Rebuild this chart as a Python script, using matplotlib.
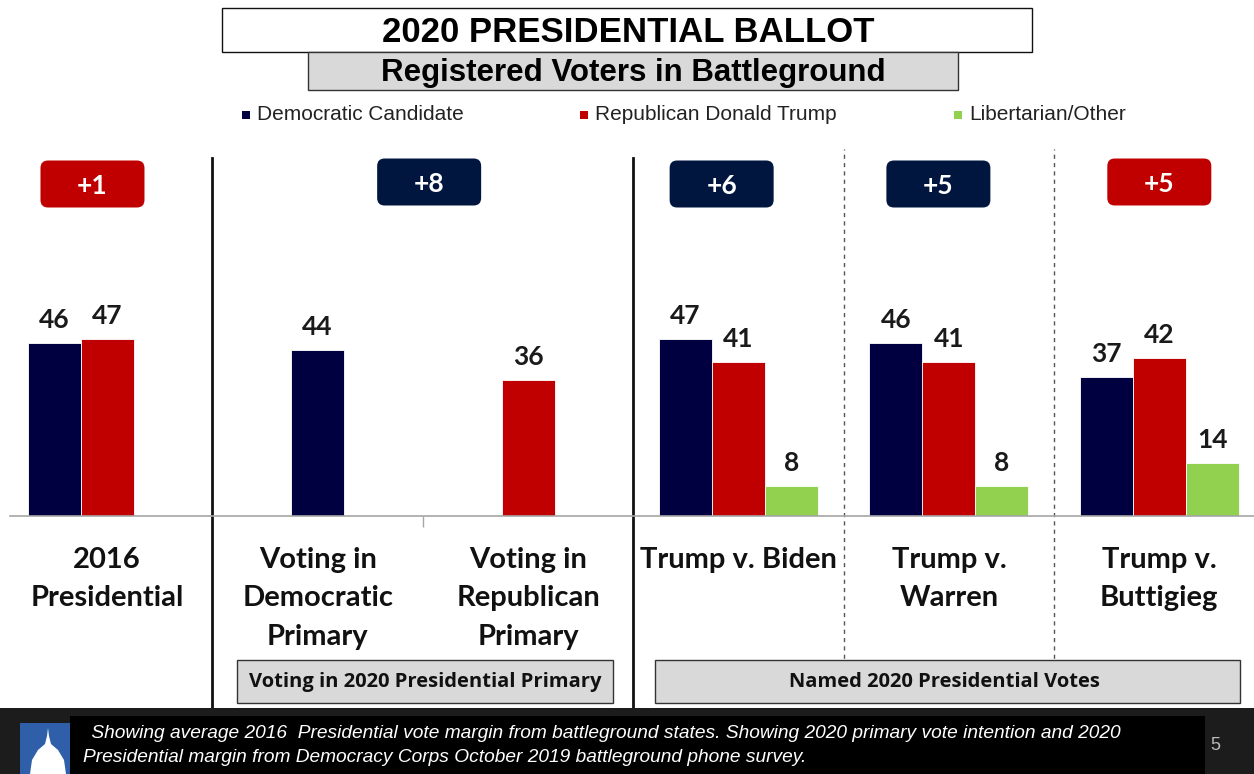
import matplotlib.pyplot as plt
from matplotlib.patches import Rectangle, FancyBboxPatch, Polygon

# Data
categories = ['2016\nPresidential', 'Voting in\nDemocratic\nPrimary', 'Voting in\nRepublican\nPrimary',
              'Trump v. Biden', 'Trump v.\nWarren', 'Trump v.\nButtigieg']
dem = [46, 44, None, 47, 46, 37]
rep = [47, None, 36, 41, 41, 42]
lib = [None, None, None, 8, 8, 14]
series_names = ['Democratic Candidate', 'Republican Donald Trump', 'Libertarian/Other']
margin_labels = ['+1', '+8', '+6', '+5', '+5']
margin_pos = [-0.07, 1.53, 2.92, 3.95, 5.0]
margin_party = ['rep', 'dem', 'dem', 'dem', 'rep']

NAVY = '#000040'
RED = '#c00000'
GREEN = '#92d050'
BADGE = {'dem': '#00163f', 'rep': '#c00000'}
colors = [NAVY, RED, GREEN]

W, H = 1254, 774
fig = plt.figure(figsize=(W / 100, H / 100), dpi=100)


def fx(x):
    return x / W


def fy(y):
    return 1 - y / H


def box(x0, y0, x1, y1, **kw):
    fig.patches.append(Rectangle((fx(x0), fy(y1)), fx(x1 - x0), (y1 - y0) / H,
                                 transform=fig.transFigure, **kw))


ax = fig.add_axes([fx(2), fy(516), fx(1252), 375 / H])
ax.set_xlim(-0.5, 5.45)
ax.set_ylim(0, 99.6)

bw = 0.252
for i in range(len(categories)):
    vals = [dem[i], rep[i], lib[i]]
    present = [k for k in range(3) if vals[k] is not None]
    for k in present:
        # a lone bar sits on the category, otherwise dem / rep / lib go left / middle / right
        x = i if len(present) == 1 else i + (k - 1) * bw
        ax.bar(x, vals[k], width=bw, color=colors[k], edgecolor='white', linewidth=0.6)
        ax.annotate(str(vals[k]), (x, vals[k]), xytext=(0, 8), textcoords='offset points',
                    ha='center', va='bottom', fontsize=19, fontweight='bold',
                    family='Lato', color='#1a1a1a')

for s in ['top', 'right', 'left']:
    ax.spines[s].set_visible(False)
ax.spines['bottom'].set_color('#a6a6a6')
ax.spines['bottom'].set_linewidth(1.2)
ax.spines['bottom'].set_bounds(-0.46, 5.45)
ax.set_yticks([])
ax.set_xticks(range(len(categories)))
ax.set_xticklabels(categories, fontsize=21, fontweight='bold', family='Lato',
                   linespacing=1.6, color='#111111')
ax.tick_params(axis='x', length=0, pad=22)
ax.set_xticks([1.5], minor=True)
ax.tick_params(axis='x', which='minor', length=8, color='#a6a6a6', width=1)

# dividers
xt = ax.get_xaxis_transform()
for x in [0.5, 2.5]:
    ax.plot([x, x], [-0.51, 0.955], transform=xt, clip_on=False, color='#111111', lw=2)
for x in [3.5, 4.5]:
    ax.plot([x, x], [-0.49, 0.98], transform=xt, clip_on=False, color='#555555', lw=1,
            linestyle=(0, (3, 3)))

# margin badges
fig.canvas.draw()
to_fig = fig.transFigure.inverted()
for lab, xpos, party in zip(margin_labels, margin_pos, margin_party):
    cx = to_fig.transform(ax.transData.transform((xpos, 0)))[0] * W
    cy = 182 if xpos in (1.53, 5.0) else 184
    bw_px, bh_px = 104, 47
    fig.patches.append(FancyBboxPatch((fx(cx - bw_px / 2), fy(cy + bh_px / 2)),
                                      fx(bw_px), bh_px / H,
                                      boxstyle='round,pad=0,rounding_size=0.006',
                                      mutation_aspect=W / H,
                                      transform=fig.transFigure, color=BADGE[party], lw=0))
    fig.text(fx(cx), fy(cy + 2), lab, ha='center', va='center', color='white',
             fontsize=19, fontweight='bold', family='Lato')

# title boxes
box(222, 8, 1032, 52, facecolor='white', edgecolor='#111111', lw=1)
fig.text(fx(628), fy(32), '2020 PRESIDENTIAL BALLOT', ha='center', va='center',
         fontsize=25, fontweight='bold', family='Liberation Sans')
box(308, 52, 958, 90, facecolor='#d9d9d9', edgecolor='#333333', lw=1)
fig.text(fx(633), fy(73), 'Registered Voters in Battleground', ha='center', va='center',
         fontsize=22.5, fontweight='bold', family='Liberation Sans')

# legend
for name, col, mx in zip(series_names, colors, [246, 584, 958]):
    box(mx - 4, 111, mx + 4, 119, facecolor=col, edgecolor='none')
    fig.text(fx(mx + 11), fy(115), name, ha='left', va='center', fontsize=15,
             family='Liberation Sans', color='#222222')

# group boxes
box(237, 660, 613, 703, facecolor='#d9d9d9', edgecolor='#333333', lw=1)
fig.text(fx(425), fy(682), 'Voting in 2020 Presidential Primary', ha='center', va='center',
         fontsize=14.5, fontweight='bold', family='Open Sans', color='#111111')
box(655, 660, 1240, 703, facecolor='#d9d9d9', edgecolor='#333333', lw=1)
fig.text(fx(944), fy(682), 'Named 2020 Presidential Votes', ha='center', va='center',
         fontsize=14.5, fontweight='bold', family='Open Sans', color='#111111')

# footer
box(0, 708, W, H, facecolor='#1c1c1c', edgecolor='none')
box(70, 716, 1205, H, facecolor='black', edgecolor='none')
box(20, 723, 70, H, facecolor='#2e5fa8', edgecolor='none')
dome = [(30, 774), (32, 760), (38, 750), (45, 744), (47, 736), (48, 728), (49, 736),
        (51, 744), (58, 750), (64, 760), (66, 774)]
fig.patches.append(Polygon([(fx(a), fy(b)) for a, b in dome], closed=True,
                           transform=fig.transFigure, facecolor='white', edgecolor='none'))
fig.text(fx(86), fy(733), ' Showing average 2016  Presidential vote margin from battleground states. '
         'Showing 2020 primary vote intention and 2020', ha='left', va='center', fontsize=13.8,
         style='italic', family='Liberation Sans', color='white')
fig.text(fx(83), fy(758), 'Presidential margin from Democracy Corps October 2019 battleground phone survey.',
         ha='left', va='center', fontsize=13.8, style='italic', family='Liberation Sans',
         color='white')
fig.text(fx(1215), fy(746), '5', ha='center', va='center', fontsize=13,
         family='Liberation Sans', color='#bbbbbb')

fig.savefig('out.png', dpi=100)
